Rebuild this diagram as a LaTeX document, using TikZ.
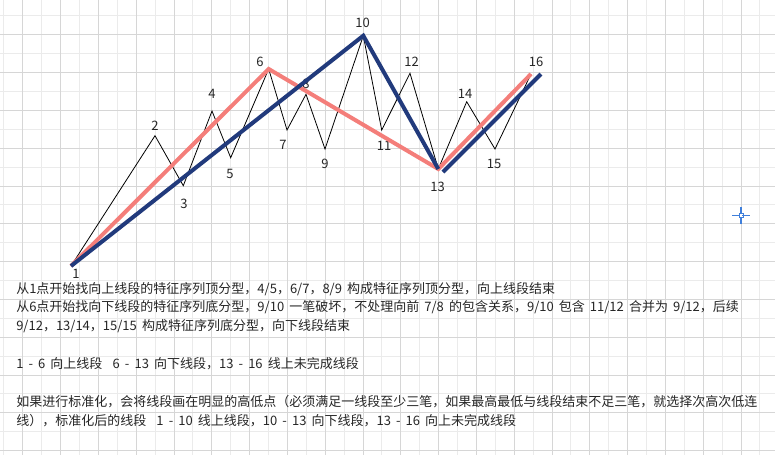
\documentclass[tikz,border=0pt]{standalone}
\usepackage{fontspec}
\setmainfont[WordSpace={1.75,0,0}]{Noto Sans CJK SC}
\definecolor{gridl}{HTML}{EBEBEB}
\definecolor{gridd}{HTML}{D6D6D6}
\definecolor{segpink}{HTML}{F47E7A}
\definecolor{segblue}{HTML}{213A7C}
\definecolor{cross}{HTML}{3F7FDB}
\definecolor{txtc}{HTML}{262626}
\begin{document}
\begin{tikzpicture}[x=0.75pt,y=-0.75pt,
  font=\fontsize{9.75pt}{12pt}\selectfont,
  lbl/.style={inner sep=0pt, text=txtc},
  txt/.style={anchor=base west, inner sep=0pt, text=txtc},
  zig/.style={draw=black, line width=0.6pt},
  pinkseg/.style={draw=segpink, line width=3pt},
  blueseg/.style={draw=segblue, line width=3pt},
  gl/.style={draw=gridl, line width=0.75pt},
  gd/.style={draw=gridd, line width=0.75pt}]
\fill[white] (0,0) rectangle (775,455);
\useasboundingbox (0,0) rectangle (775,455);
% grid
\foreach \k in {0,...,40}{
  \pgfmathsetmacro\xx{3.9+18.9*\k}
  \ifodd\k\relax\else\draw[gl] (\xx,0) -- (\xx,455);\fi}
\foreach \k in {0,...,23}{
  \pgfmathsetmacro\yy{15.9+18.9*\k}
  \ifodd\k\relax\else\draw[gl] (0,\yy) -- (775,\yy);\fi}
\foreach \k in {0,...,40}{
  \pgfmathsetmacro\xx{3.9+18.9*\k}
  \ifodd\k\relax\draw[gd] (\xx,0) -- (\xx,455);\fi}
\foreach \k in {0,...,23}{
  \pgfmathsetmacro\yy{15.9+18.9*\k}
  \ifodd\k\relax\draw[gd] (0,\yy) -- (775,\yy);\fi}
% points
\coordinate (p1) at (71,266);
\coordinate (p2) at (155,135.7);
\coordinate (p3) at (183.3,185.7);
\coordinate (p4) at (212,111);
\coordinate (p5) at (230.7,157.7);
\coordinate (p6) at (268.7,69);
\coordinate (p7) at (287,130);
\coordinate (p8) at (306,94.3);
\coordinate (p9) at (325,149);
\coordinate (p10) at (363.3,35.7);
\coordinate (p11) at (381.7,130);
\coordinate (p12) at (410,73.3);
\coordinate (p13) at (438.3,169);
\coordinate (p14) at (466.7,101.7);
\coordinate (p15) at (495,149);
\coordinate (p16) at (531,74);
\coordinate (b13) at (443,172);
\coordinate (b16) at (541,74);
% labels
\node[lbl] (l1) at (76,274) {1};
\node[lbl] (l2) at (155,126) {2};
\node[lbl] (l3) at (184,204) {3};
\node[lbl] (l4) at (212,94) {4};
\node[lbl] (l5) at (230,174) {5};
\node[lbl] (l6) at (260,62) {6};
\node[lbl] (l7) at (283,145) {7};
\node[lbl] (l8) at (306,84) {8};
\node[lbl] (l9) at (325,164) {9};
\node[lbl] (l10) at (362.7,23) {10};
\node[lbl] (l11) at (384,145.7) {11};
\node[lbl] (l12) at (411.7,61.7) {12};
\node[lbl] (l13) at (437.7,187.3) {13};
\node[lbl] (l14) at (465,94.3) {14};
\node[lbl] (l15) at (494,164) {15};
\node[lbl] (l16) at (536,61.7) {16};
% lines
\draw[zig] (p1) -- (p2) -- (p3) -- (p4) -- (p5) -- (p6) -- (p7) -- (p8) -- (p9) -- (p10) -- (p11) -- (p12) -- (p13) -- (p14) -- (p15) -- (p16);
\draw[pinkseg] (p1) -- (p6) -- (p13) -- (p16);
\draw[blueseg] (p1) -- (p10) -- (p13);
\draw[blueseg] (b13) -- (b16);
% crosshair
\coordinate (cx) at (741,215.5);
\draw[cross, line width=1pt] ([yshift=-6.5pt]cx) -- ([yshift=6.5pt]cx);
\draw[cross, line width=1pt] ([xshift=-6.5pt]cx) -- ([xshift=6.5pt]cx);
\fill[white] ([shift={(-1pt,-1pt)}]cx) rectangle ([shift={(1pt,1pt)}]cx);
\draw[cross, line width=0.6pt] ([shift={(-1.5pt,-1.5pt)}]cx) rectangle ([shift={(1.5pt,1.5pt)}]cx);
% text
\node[txt] (t1) at (16,293) {从1点开始找向上线段的特征序列顶分型，4/5，6/7，8/9 构成特征序列顶分型，向上线段结束};
\node[txt] (t2) at (16,311.5) {从6点开始找向下线段的特征序列底分型，9/10 一笔破坏，不处理向前 7/8 的包含关系，9/10 包含 11/12 合并为 9/12，后续};
\node[txt] (t3) at (16,330) {9/12，13/14，15/15 构成特征序列底分型，向下线段结束};
\node[txt] (t4) at (16,368) {1 - 6 向上线段\ \ 6 - 13 向下线段，13 - 16 线上未完成线段};
\node[txt] (t5) at (16,406.5) {如果进行标准化，会将线段画在明显的高低点（必须满足一线段至少三笔，如果最高最低与线段结束不足三笔，就选择次高次低连};
\node[txt] (t6) at (16,425) {线），标准化后的线段\ \ 1 - 10 线上线段，10 - 13 向下线段，13 - 16 向上未完成线段};
\end{tikzpicture}
\end{document}
